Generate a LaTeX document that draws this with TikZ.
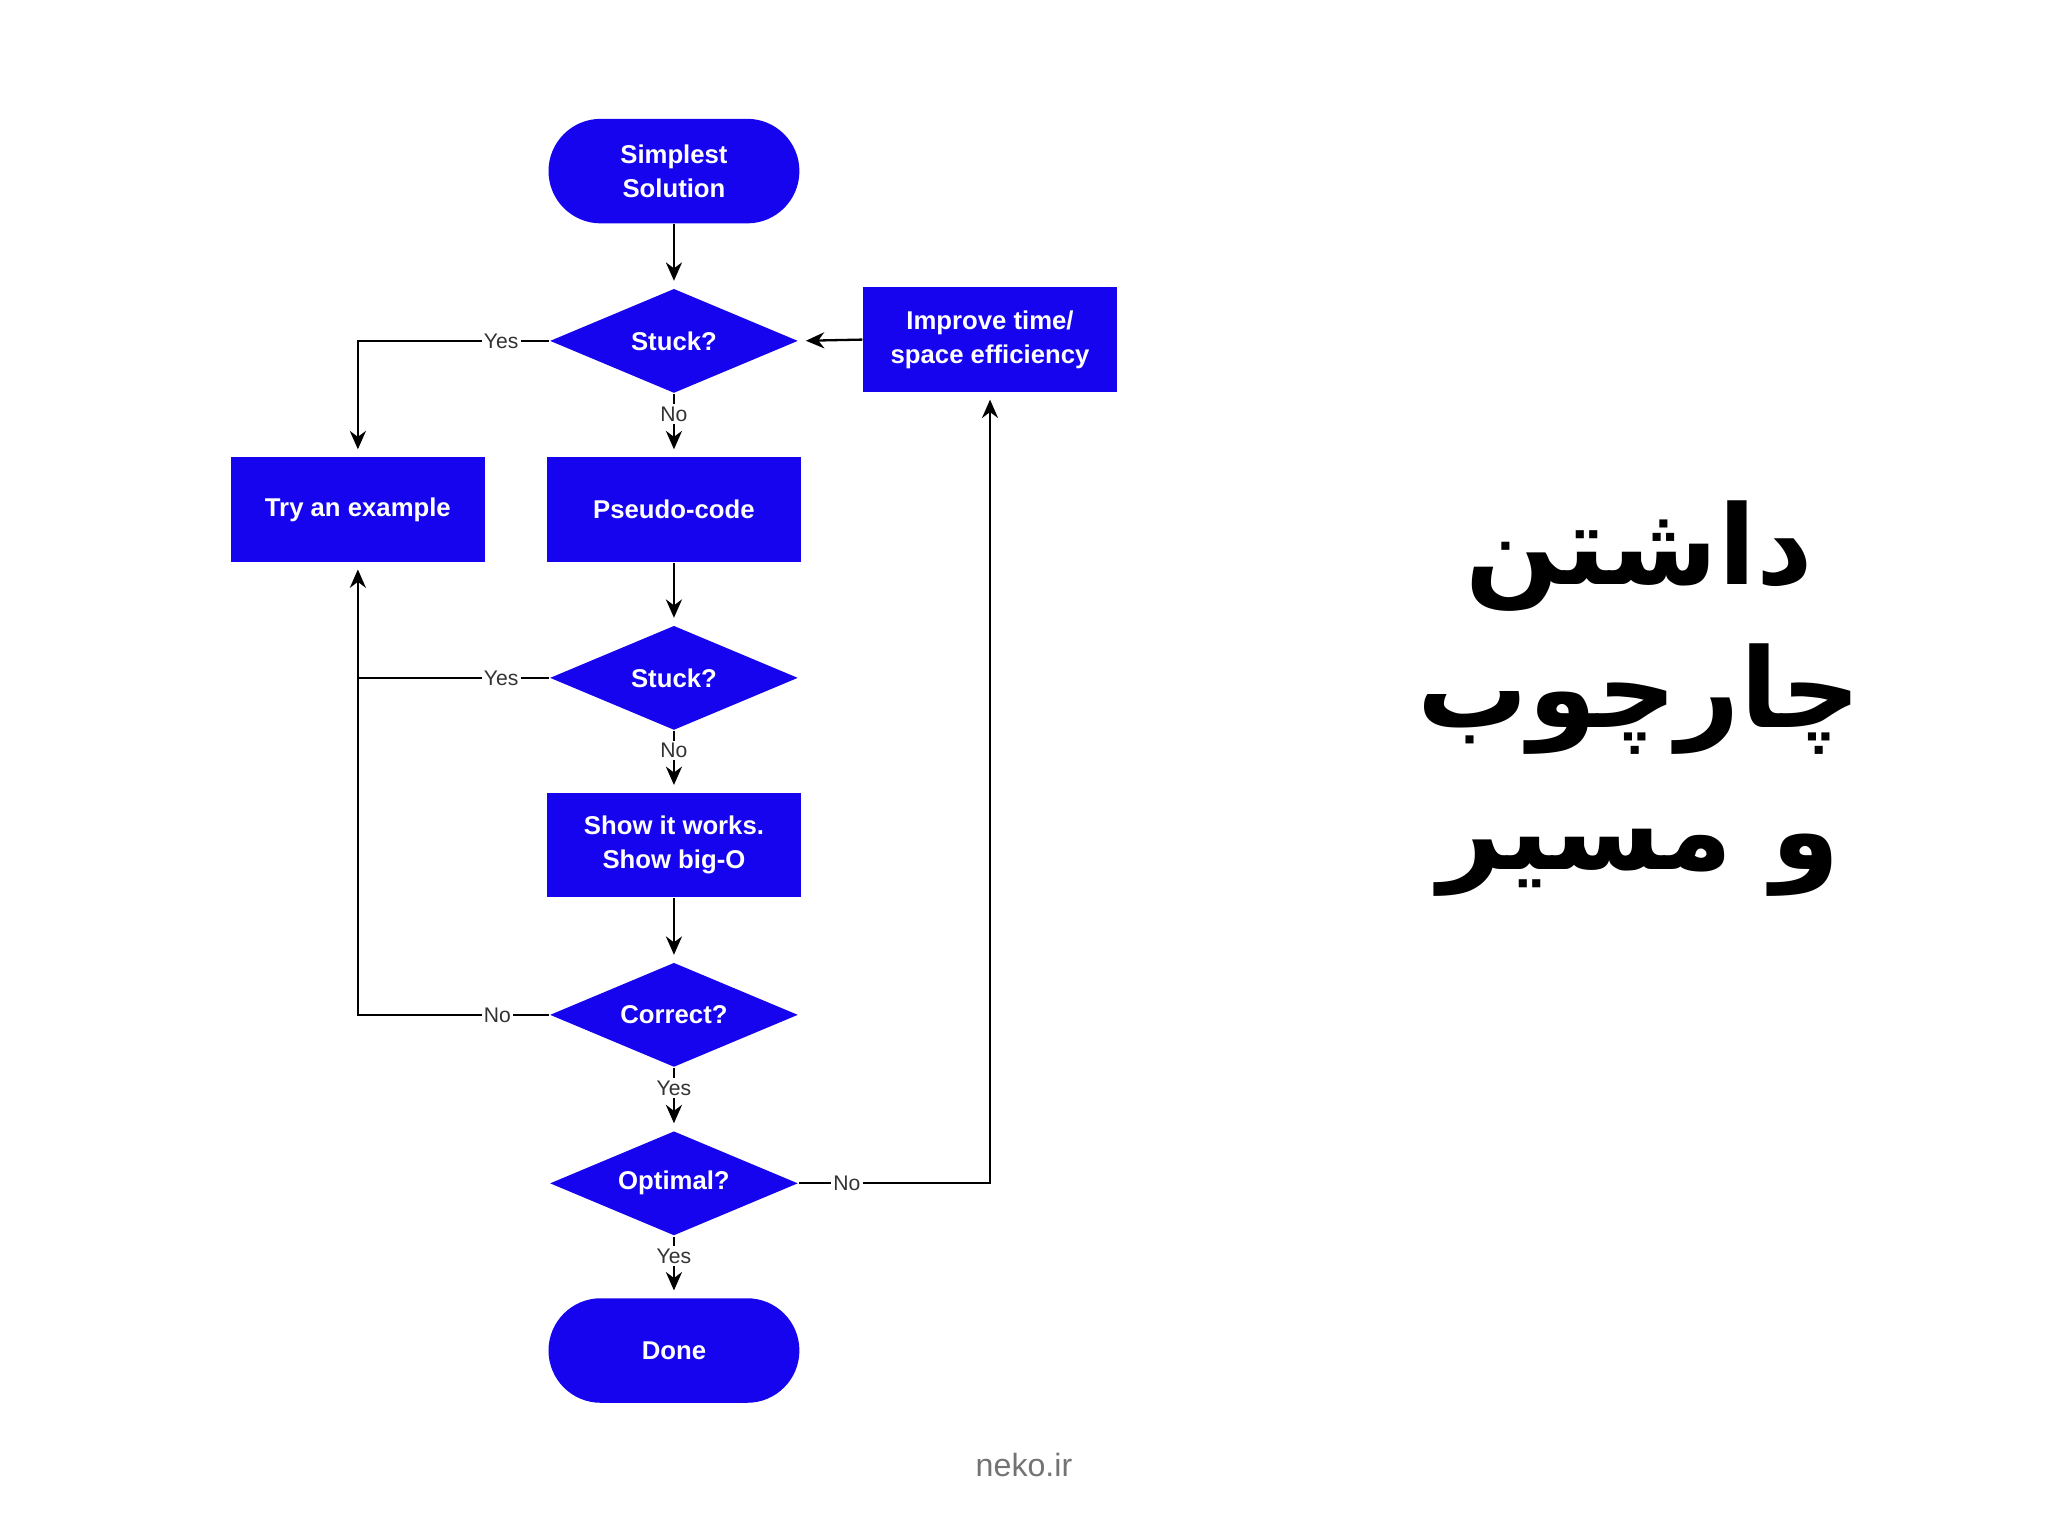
\documentclass[tikz,border=0pt]{standalone}
\usepackage{fontspec}
\setmainfont{Liberation Sans}
\newfontfamily\arabicfont[Script=Arabic]{DejaVu Sans}
\TeXXeTstate=1
\usetikzlibrary{shapes.geometric,arrows.meta}
\definecolor{fblue}{RGB}{22,4,238}
\tikzset{
 box/.style={fill=fblue,text=white,font=\fontsize{5.6}{7.4}\selectfont\bfseries,minimum width=1.94cm,minimum height=0.8cm,inner sep=0,align=center},
 term/.style={box,rounded corners=0.4cm,minimum width=1.92cm},
 dia/.style={diamond,fill=fblue,text=white,font=\fontsize{5.6}{7}\selectfont\bfseries,aspect=2.375,minimum width=1.9cm,minimum height=0.8cm,inner sep=0},
 lab/.style={fill=white,font=\fontsize{4.6}{6}\selectfont,inner sep=0.5pt,text=black!80},
 arr/.style={draw,-{Stealth[length=4pt,width=3.5pt]},shorten >=1.5pt,line width=0.5pt},
 ln/.style={draw,line width=0.5pt}
}
\begin{document}
\begin{tikzpicture}[x=0.01cm,y=-0.01cm]
\useasboundingbox (0,0) rectangle (1568,1176);
\node[term] (s) at (516,131) {Simplest\\Solution};
\node[dia] (q1) at (516,261) {Stuck?};
\node[box] (imp) at (758,260) {Improve time/\\space efficiency};
\node[box] (try) at (274,390) {Try an example};
\node[box] (ps) at (516,390) {Pseudo-code};
\node[dia] (q2) at (516,519) {Stuck?};
\node[box] (sh) at (516,647) {Show it works.\\Show big-O};
\node[dia] (q3) at (516,777) {Correct?};
\node[dia] (q4) at (516,906) {Optimal?};
\node[term] (d) at (516,1034) {Done};
\coordinate (c2) at (274,519);
\coordinate (c4) at (758,906);
\draw[arr] (s) -- (q1);
\draw[arr] (q1) -- node[lab,pos=0.32]{No} (ps);
\draw[arr] (q1.west) -- node[lab,pos=0.25]{Yes} (274,261) -- (try.north);
\draw[arr] (ps) -- (q2);
\draw[ln] (q2.west) -- node[lab,pos=0.25]{Yes} (c2);
\draw[arr] (q2) -- node[lab,pos=0.32]{No} (sh);
\draw[arr] (sh) -- (q3);
\draw[arr] (q3.west) -- node[lab,pos=0.27]{No} (274,777) -- (try.south);
\draw[arr] (q3) -- node[lab,pos=0.32]{Yes} (q4);
\draw[arr] (q4) -- node[lab,pos=0.32]{Yes} (d);
\draw[arr] (q4.east) -- node[lab,pos=0.25]{No} (c4) -- (imp.south);
\draw[arr] (imp.west) -- (q1.east);
\node[font=\arabicfont\bfseries\fontsize{24}{31}\selectfont,align=center] (t) at (1255,535) {\beginR داشتن\endR\\\beginR چارچوب\endR\\\beginR و مسیر\endR};
\node[text=black!55,font=\fontsize{7}{8}\selectfont] (n) at (784,1122) {neko.ir};
\end{tikzpicture}
\end{document}
